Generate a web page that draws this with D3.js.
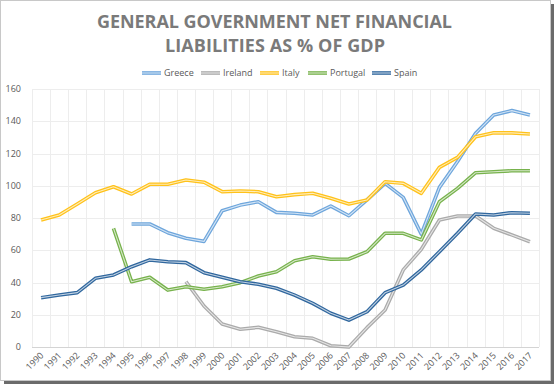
<!DOCTYPE html>
<html>
<head>
<meta charset="utf-8">
<script src="https://cdn.jsdelivr.net/npm/d3@7"></script>
<style>
  body { margin: 0; background: #fff; }
  text { font-family: "Open Sans", "Noto Sans", sans-serif; }
</style>
</head>
<body>
<svg id="chart" width="556" height="386"></svg>
<script>
const years = d3.range(1990, 2018).map(String);
const yTicks = [0, 20, 40, 60, 80, 100, 120, 140, 160];

// null = no data for that year
const greece = [null, null, null, null, null, 76.3, 76.3, 70.9, 67.4, 65.5, 84.5, 88, 90.1, 83.5, 82.9, 81.9, 87.4, 81.4, 91.2, 101.5, 92.8, 70, 99, 115, 132.5, 143.9, 146.6, 143.9];
const ireland = [null, null, null, null, null, null, null, null, 40.5, 25.4, 14.3, 11, 12.2, 9.5, 6.4, 5.4, 0.8, 0, 12, 23, 47.8, 60.6, 78.8, 81.2, 81.2, 73.6, 69.5, 65.3];
const italy = [78.8, 81.9, 88.7, 95.7, 99.4, 94.9, 100.9, 100.9, 103.6, 102.2, 96.3, 96.7, 96.3, 93.2, 94.5, 95.3, 92.2, 88.7, 91.2, 102.5, 101.5, 95.3, 111.4, 117.6, 130.4, 132.9, 132.8, 132.1];
const portugal = [null, null, null, null, 73.6, 40.5, 43.2, 35.3, 37.4, 35.8, 37.4, 39.9, 44, 46.7, 53.5, 56, 54.4, 54.6, 59.1, 70.5, 70.5, 66.4, 90.1, 98.4, 108.1, 108.7, 109.3, 109.3];
const spain = [30.6, 32.2, 33.7, 42.6, 44.7, 49.8, 54, 52.9, 52.3, 46.1, 43.2, 40.5, 38.9, 36.4, 32.2, 27.1, 20.9, 16.7, 21.9, 33.7, 38.4, 47.8, 59.1, 70.5, 82.5, 81.9, 83.3, 82.9];

const seriesNames = ["Greece", "Ireland", "Italy", "Portugal", "Spain"];
const seriesValues = [greece, ireland, italy, portugal, spain];
const colors = ["#6ea6dc", "#ababab", "#ffc21a", "#77b24c", "#30679e"];

const svg = d3.select("#chart");

// frame with drop shadow
svg.append("rect").attr("x", 4).attr("y", 4).attr("width", 550).attr("height", 380).attr("fill", "#6b6b6b");
svg.append("rect").attr("x", 0.5).attr("y", 0.5).attr("width", 550).attr("height", 380)
  .attr("fill", "#fff").attr("stroke", "#c8c8c8");

// title
const title = svg.append("g").attr("fill", "#7a7a7a").attr("font-weight", "bold").attr("font-size", 18);
title.append("text").attr("x", 97).attr("y", 28).attr("textLength", 355).attr("lengthAdjust", "spacing")
  .text("GENERAL GOVERNMENT NET FINANCIAL");
title.append("text").attr("x", 165).attr("y", 52).attr("textLength", 220).attr("lengthAdjust", "spacing")
  .text("LIABILITIES AS % OF GDP");

const x = d3.scaleBand().domain(years).range([32, 539]);
const y = d3.scaleLinear().domain([0, 160]).range([347, 89]);
const cx = d => x(d) + x.bandwidth() / 2;

// gridlines
const grid = svg.append("g").attr("stroke", "#ededed").attr("stroke-width", 1);
grid.selectAll("line.h").data(yTicks.filter(t => t > 0)).join("line")
  .attr("x1", 32).attr("x2", 539)
  .attr("y1", d => Math.round(y(d)) + 0.5).attr("y2", d => Math.round(y(d)) + 0.5);
grid.selectAll("line.v").data(years.concat(["end"])).join("line")
  .attr("x1", (d, i) => Math.round(32 + i * x.step()) + 0.5)
  .attr("x2", (d, i) => Math.round(32 + i * x.step()) + 0.5)
  .attr("y1", y(160)).attr("y2", y(0));

// bottom axis line
svg.append("line").attr("x1", 32).attr("x2", 539).attr("y1", Math.round(y(0)) + 0.5).attr("y2", Math.round(y(0)) + 0.5)
  .attr("stroke", "#d4d4d4");

// y labels
svg.append("g").selectAll("text").data(yTicks).join("text")
  .attr("x", 21).attr("y", d => y(d) + 3)
  .attr("text-anchor", "end").attr("font-size", 9).attr("fill", "#595959")
  .text(d => d);

// x labels
svg.append("g").selectAll("text").data(years).join("text")
  .attr("text-anchor", "end").attr("font-size", 9).attr("fill", "#595959")
  .attr("transform", d => `translate(${cx(d) + 3},${356}) rotate(-45)`)
  .text(d => d);

// lines (double compound style)
const line = d3.line()
  .defined(d => d.v !== null)
  .x(d => cx(d.year))
  .y(d => y(d.v));

seriesValues.forEach((vals, i) => {
  const pts = years.map((yr, j) => ({ year: yr, v: vals[j] }));
  svg.append("path").datum(pts).attr("d", line)
    .attr("fill", "none").attr("stroke", colors[i]).attr("stroke-width", 3.6).attr("stroke-linejoin", "round");
  svg.append("path").datum(pts).attr("d", line)
    .attr("fill", "none").attr("stroke", "#fff").attr("stroke-opacity", 0.7).attr("stroke-width", 1.1).attr("stroke-linejoin", "round");
});

// legend
const legendX = [142, 201, 260, 308, 372];
const legend = svg.append("g");
seriesNames.forEach((name, i) => {
  const g = legend.append("g").attr("transform", `translate(${legendX[i]},73)`);
  g.append("line").attr("x1", 0).attr("x2", 19).attr("stroke", colors[i]).attr("stroke-width", 3.6);
  g.append("line").attr("x1", 0).attr("x2", 19).attr("stroke", "#fff").attr("stroke-opacity", 0.7).attr("stroke-width", 1.1);
  g.append("text").attr("x", 22).attr("y", 3).attr("font-size", 9).attr("fill", "#595959").text(name);
});
</script>
</body>
</html>
